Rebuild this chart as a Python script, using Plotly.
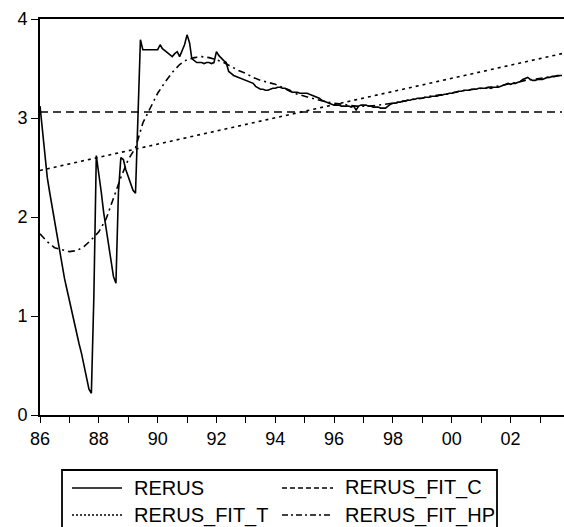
import pandas as pd
import plotly.graph_objects as go

# ---------------- data ----------------
rerus_dates = pd.date_range("1986-01-01", periods=214, freq="MS")
rerus = [
    # 1986
    3.12, 2.85, 2.60, 2.40, 2.25, 2.10, 1.95, 1.80, 1.65, 1.50, 1.38, 1.27,
    # 1987
    1.15, 1.05, 0.95, 0.83, 0.72, 0.62, 0.50, 0.38, 0.26, 0.22, 1.20, 2.62,
    # 1988
    2.45, 2.25, 2.05, 1.88, 1.70, 1.52, 1.40, 1.33, 2.25, 2.60, 2.58, 2.48,
    # 1989
    2.40, 2.33, 2.27, 2.24, 3.00, 3.79, 3.69, 3.69, 3.69, 3.69, 3.69, 3.69,
    # 1990
    3.69, 3.74, 3.70, 3.68, 3.66, 3.64, 3.62, 3.65, 3.67, 3.62, 3.68, 3.74,
    # 1991
    3.84, 3.76, 3.60, 3.58, 3.56, 3.56, 3.56, 3.55, 3.56, 3.56, 3.55, 3.56,
    # 1992
    3.67, 3.63, 3.60, 3.58, 3.56, 3.47, 3.45, 3.43, 3.42, 3.41, 3.40, 3.39,
    # 1993
    3.38, 3.37, 3.36, 3.35, 3.32, 3.30, 3.29, 3.29, 3.28, 3.28, 3.29, 3.30,
    # 1994
    3.30, 3.31, 3.31, 3.30, 3.30, 3.29, 3.28, 3.26, 3.26, 3.26, 3.25, 3.25,
    # 1995
    3.25, 3.25, 3.24, 3.23, 3.22, 3.21, 3.20, 3.18, 3.17, 3.16, 3.15, 3.14,
    # 1996
    3.13, 3.13, 3.13, 3.12, 3.12, 3.12, 3.12, 3.11, 3.12, 3.08, 3.12, 3.13,
    # 1997
    3.13, 3.13, 3.12, 3.12, 3.11, 3.11, 3.11, 3.10, 3.10, 3.10, 3.12, 3.14,
    # 1998
    3.15, 3.15, 3.16, 3.16, 3.17, 3.17, 3.18, 3.18, 3.19, 3.19, 3.20, 3.20,
    # 1999
    3.20, 3.21, 3.21, 3.21, 3.22, 3.22, 3.22, 3.23, 3.23, 3.24, 3.24, 3.25,
    # 2000
    3.25, 3.26, 3.26, 3.27, 3.27, 3.28, 3.28, 3.28, 3.29, 3.29, 3.29, 3.30,
    # 2001
    3.30, 3.30, 3.30, 3.31, 3.30, 3.31, 3.31, 3.31, 3.32, 3.33, 3.34, 3.35,
    # 2002
    3.34, 3.35, 3.35, 3.36, 3.37, 3.39, 3.40, 3.41, 3.39, 3.38, 3.38, 3.39,
    # 2003
    3.39, 3.39, 3.40, 3.41, 3.41, 3.42, 3.42, 3.43, 3.43, 3.43,
]

hp_dates = pd.date_range("1986-01-01", periods=72, freq="3MS")
rerus_fit_hp = [
    1.83, 1.75, 1.69, 1.67, 1.65, 1.66, 1.70, 1.77, 1.85, 1.98, 2.18, 2.40,
    2.58, 2.70, 2.95, 3.10, 3.25, 3.36, 3.46, 3.54, 3.59, 3.61, 3.62, 3.61,
    3.59, 3.56, 3.52, 3.48, 3.45, 3.41, 3.38, 3.36, 3.34, 3.31, 3.27, 3.24,
    3.22, 3.20, 3.18, 3.16, 3.15, 3.14, 3.13, 3.12, 3.12, 3.12, 3.13, 3.14,
    3.15, 3.16, 3.18, 3.19, 3.20, 3.22, 3.23, 3.24, 3.25, 3.27, 3.28, 3.29,
    3.30, 3.31, 3.32, 3.33, 3.35, 3.36, 3.38, 3.39, 3.40, 3.41, 3.42, 3.43,
]

fit_dates = [rerus_dates[0], rerus_dates[-1]]
rerus_fit_c = [3.06, 3.06]
rerus_fit_t = [2.47, 3.65]

x_range = ["1986-01-01", "2003-10-26"]
y_ticks = [0, 1, 2, 3, 4]

series_names = ["RERUS", "RERUS_FIT_C", "RERUS_FIT_T", "RERUS_FIT_HP"]
series_dash = ["solid", "dash", "dot", "dashdot"]

# ---------------- figure ----------------
W, H = 564, 527
ML, MR, MT, MB = 40, 0, 19, 112
PW, PH = W - ML - MR, H - MT - MB

def px(x):
    return (x - ML) / PW

def py(y):
    return (H - MB - y) / PH

fig = go.Figure()
fig.add_trace(go.Scatter(x=rerus_dates, y=rerus, mode="lines", name=series_names[0],
                         line=dict(color="black", width=1.6, dash=series_dash[0])))
fig.add_trace(go.Scatter(x=fit_dates, y=rerus_fit_c, mode="lines", name=series_names[1],
                         line=dict(color="black", width=1.6, dash="8px,5px")))
fig.add_trace(go.Scatter(x=fit_dates, y=rerus_fit_t, mode="lines", name=series_names[2],
                         line=dict(color="black", width=1.6, dash="3px,4px")))
fig.add_trace(go.Scatter(x=hp_dates, y=rerus_fit_hp, mode="lines", name=series_names[3],
                         line=dict(color="black", width=1.6, dash="7px,4px,2px,4px")))

font_family = "Liberation Sans, Arial, sans-serif"

fig.update_layout(
    width=W, height=H,
    margin=dict(l=ML, r=MR, t=MT, b=MB, pad=0),
    paper_bgcolor="white", plot_bgcolor="white",
    showlegend=False,
    font=dict(family=font_family, size=18, color="black"),
    xaxis=dict(
        type="date", range=x_range, tickformat="%y", dtick="M24", tick0="1986-01-01",
        ticks="outside", ticklen=6, tickwidth=1.2, tickcolor="black",
        minor=dict(dtick="M12", tick0="1986-01-01", ticks="outside", ticklen=6,
                   tickwidth=1.2, tickcolor="black", showgrid=False),
        showline=True, linecolor="black", linewidth=1.8, mirror=True,
        showgrid=False, zeroline=False, tickfont=dict(size=18),
    ),
    yaxis=dict(
        range=[0, 4], tickvals=y_ticks, ticks="outside", ticklen=7, tickwidth=1.2,
        tickcolor="black", showline=True, linecolor="black", linewidth=1.8,
        showgrid=False, zeroline=False, tickfont=dict(size=18),
    ),
)

# ---------------- legend box (manual) ----------------
shapes = [dict(type="rect", xref="paper", yref="paper",
               x0=px(62), x1=px(497), y0=py(545), y1=py(470),
               line=dict(color="black", width=1.8), fillcolor="white", layer="above")]
rows = [488, 515]
cols = [(72, 122, 132), (282, 333, 343)]
order = [(0, 0), (0, 1), (1, 0), (1, 1)]
dash_map = {"solid": "solid", "dash": "5px,3px", "dot": "2px,2px", "dashdot": "6px,3px,2px,3px"}
annotations = []
for i, (r, c) in enumerate(order):
    x0, x1, xt = cols[c]
    yy = rows[r]
    shapes.append(dict(type="line", xref="paper", yref="paper",
                       x0=px(x0), x1=px(x1), y0=py(yy), y1=py(yy),
                       line=dict(color="black", width=1.3, dash=dash_map[series_dash[i]]),
                       layer="above"))
    annotations.append(dict(xref="paper", yref="paper", x=px(xt), y=py(yy),
                            text=series_names[i], showarrow=False,
                            xanchor="left", yanchor="middle",
                            font=dict(family=font_family, size=20, color="black")))
fig.update_layout(shapes=shapes, annotations=annotations)

fig.write_html("out.html")
